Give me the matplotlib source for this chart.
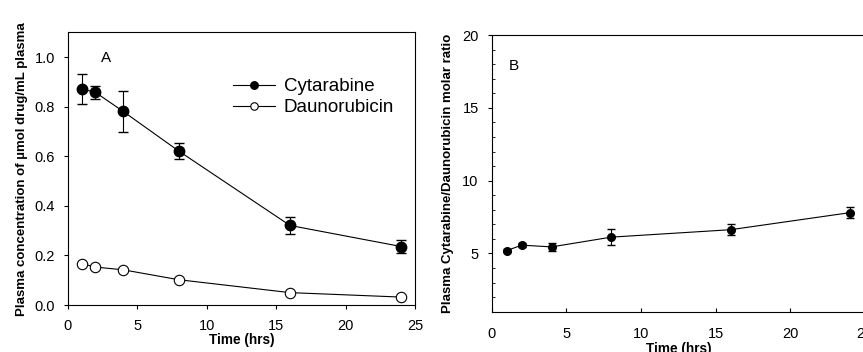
import matplotlib
matplotlib.use("Agg")
import matplotlib.pyplot as plt
from matplotlib.ticker import MultipleLocator

plt.rcParams['font.family'] = ['Liberation Sans', 'DejaVu Sans']

time = [1, 2, 4, 8, 16, 24]
cyt = [0.872, 0.858, 0.781, 0.621, 0.321, 0.236]
cyt_err = [0.061, 0.027, 0.081, 0.033, 0.034, 0.025]
dau = [0.167, 0.153, 0.142, 0.102, 0.050, 0.032]
dau_err = [0.004, 0.004, 0.004, 0.004, 0.003, 0.003]
ratio = [5.2, 5.57, 5.45, 6.12, 6.63, 7.8]
ratio_err = [0.12, 0.12, 0.25, 0.53, 0.38, 0.37]

fig = plt.figure(figsize=(8.63, 3.52), dpi=100)

# panel A
ax1 = fig.add_axes([0.0784, 0.1335, 0.4025, 0.7745])
ax1.errorbar(time, cyt, yerr=cyt_err, color='black', marker='o', ms=7.5,
             mfc='black', mec='black', lw=0.8, elinewidth=0.8, capsize=3.5,
             label='Cytarabine', zorder=3)
ax1.errorbar(time, dau, yerr=dau_err, color='black', marker='o', ms=7.5,
             mfc='white', mec='black', mew=0.8, lw=0.8, elinewidth=0.8,
             capsize=3.5, label='Daunorubicin', zorder=3)
ax1.set_xlim(0, 25)
ax1.set_ylim(0, 1.1)
ax1.set_xticks([0, 5, 10, 15, 20, 25])
ax1.set_yticks([0.0, 0.2, 0.4, 0.6, 0.8, 1.0])
ax1.set_yticklabels(['0.0', '0.2', '0.4', '0.6', '0.8', '1.0'])
ax1.tick_params(direction='out', length=3, width=0.8, labelsize=10.5)
ax1.tick_params(axis='x', pad=7)
ax1.tick_params(axis='y', pad=6)
ax1.set_xlabel('Time (hrs)', fontsize=9.8, fontweight='bold', labelpad=0)
ax1.set_ylabel('Plasma concentration of µmol drug/mL plasma', fontsize=9.5,
               fontweight='bold', labelpad=5)
ax1.text(2.4, 0.98, 'A', fontsize=11)
handles, labels = ax1.get_legend_handles_labels()
handles = [h[0] for h in handles]
ax1.legend(handles, labels, loc='upper left', bbox_to_anchor=(0.45, 0.866),
           frameon=False, fontsize=13.5, markerscale=0.72, handlelength=2.2,
           handletextpad=0.5, labelspacing=0.2, borderpad=0)
for s in ax1.spines.values():
    s.set_linewidth(0.8)

# panel B
ax2 = fig.add_axes([0.570, 0.1145, 0.432, 0.786])
ax2.errorbar(time, ratio, yerr=ratio_err, color='black', marker='o', ms=5.5,
             mfc='black', mec='black', lw=0.8, elinewidth=0.8, capsize=3,
             zorder=3)
ax2.set_xlim(0, 25)
ax2.set_ylim(1, 20)
ax2.set_xticks([0, 5, 10, 15, 20, 25])
ax2.set_yticks([5, 10, 15, 20])
ax2.yaxis.set_minor_locator(MultipleLocator(1))
ax2.tick_params(axis='y', which='major', direction='out', length=3, width=0.8,
                labelsize=10.5, pad=6.5)
ax2.tick_params(axis='y', which='minor', direction='in', length=2.5, width=0.6)
ax2.tick_params(axis='x', direction='in', length=3, width=0.8, labelsize=10.5,
                pad=11)
ax2.set_xlabel('Time (hrs)', fontsize=9.8, fontweight='bold', labelpad=1)
ax2.set_ylabel('Plasma Cytarabine/Daunorubicin molar ratio', fontsize=9.5,
               fontweight='bold', labelpad=6)
ax2.text(1.15, 17.6, 'B', fontsize=11)
ax2.spines['right'].set_visible(False)
for s in ax2.spines.values():
    s.set_linewidth(0.8)

fig.savefig('out.png', dpi=100)
